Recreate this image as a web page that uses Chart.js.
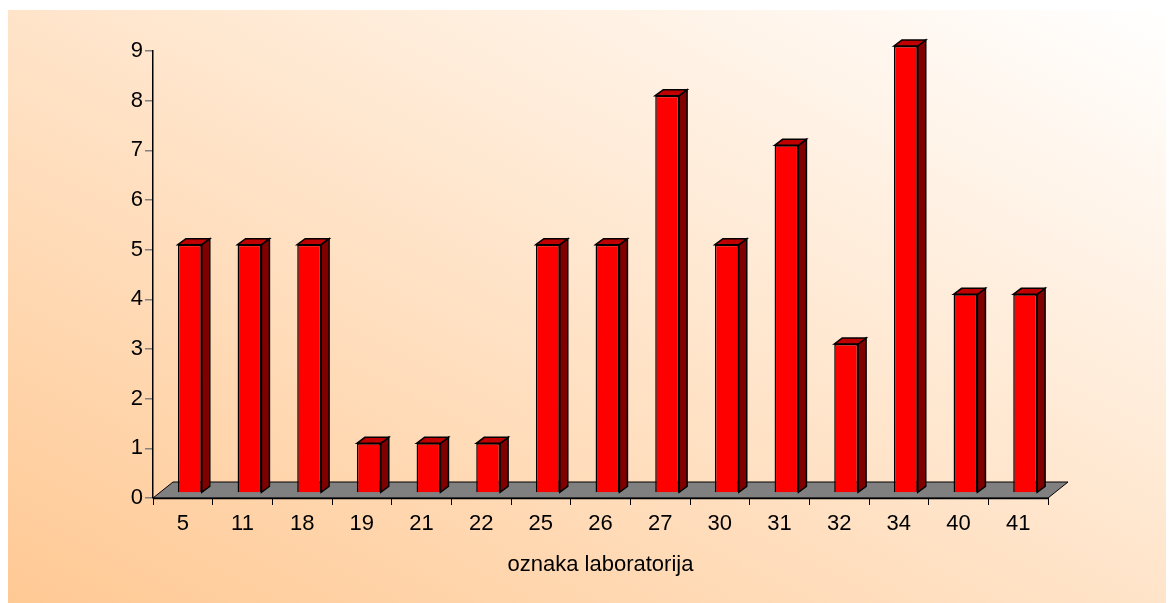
<!DOCTYPE html>
<html>
<head>
<meta charset="utf-8">
<script src="https://cdn.jsdelivr.net/npm/chart.js@4/dist/chart.umd.min.js"></script>
<style>
  html, body { margin: 0; padding: 0; background: #ffffff; }
  #wrap { width: 1173px; height: 603px; position: relative; }
</style>
</head>
<body>
<div id="wrap"><canvas id="labChart" width="1173" height="603"></canvas></div>
<script>
// data
const labels = ['5', '11', '18', '19', '21', '22', '25', '26', '27', '30', '31', '32', '34', '40', '41'];
const counts = [5, 5, 5, 1, 1, 1, 5, 5, 8, 5, 7, 3, 9, 4, 4];
const yTicks = [0, 1, 2, 3, 4, 5, 6, 7, 8, 9];
const xTitle = 'oznaka laboratorija';

const FONT = "'Liberation Sans', Arial, sans-serif";
const depth = { dx: 8, dy: -6 };      // bar depth
const floorDepth = { dx: 20, dy: -16 };
const barShift = { dx: 7, dy: -5 };    // bars sit halfway back on the floor

const background = {
    id: 'background',
    beforeDraw(chart) {
        const ctx = chart.ctx;
        const x0 = 8, y0 = 10, x1 = 1166, y1 = 603;
        const W = x1 - x0, H = y1 - y0;
        // diagonal fill in box-normalised space: peach bottom-left -> white top-right
        const t = 2 / (1 / (W * W) + 1 / (H * H));
        const g = ctx.createLinearGradient(x0, y1, x0 + t / W, y1 - t / H);
        g.addColorStop(0, '#FFC994');
        g.addColorStop(1, '#FFFFFF');
        ctx.save();
        ctx.fillStyle = g;
        ctx.fillRect(x0, y0, W, H);
        ctx.restore();
    }
};

const threeD = {
    id: 'threeD',
    beforeDatasetsDraw(chart) {
        const ctx = chart.ctx;
        const a = chart.chartArea;
        // grey floor
        ctx.save();
        ctx.beginPath();
        ctx.moveTo(a.left, a.bottom);
        ctx.lineTo(a.left + floorDepth.dx, a.bottom + floorDepth.dy);
        ctx.lineTo(a.right + floorDepth.dx, a.bottom + floorDepth.dy);
        ctx.lineTo(a.right, a.bottom);
        ctx.closePath();
        ctx.fillStyle = '#808080';
        ctx.fill();
        ctx.lineWidth = 1;
        ctx.strokeStyle = '#000000';
        ctx.stroke();
        ctx.beginPath();
        ctx.moveTo(a.left, a.bottom + 0.5);
        ctx.lineTo(a.right, a.bottom + 0.5);
        ctx.lineWidth = 1.5;
        ctx.stroke();
        ctx.restore();
        ctx.save();
        ctx.translate(barShift.dx, barShift.dy);
    },
    afterDatasetsDraw(chart) {
        const ctx = chart.ctx;
        const meta = chart.getDatasetMeta(0);
        ctx.lineWidth = 1.5;
        ctx.strokeStyle = '#000000';
        ctx.lineJoin = 'miter';
        meta.data.forEach(bar => {
            const p = bar.getProps(['x', 'y', 'base', 'width'], true);
            const l = p.x - p.width / 2, r = p.x + p.width / 2;
            // side face
            ctx.beginPath();
            ctx.moveTo(r, p.y);
            ctx.lineTo(r + depth.dx, p.y + depth.dy);
            ctx.lineTo(r + depth.dx, p.base + depth.dy);
            ctx.lineTo(r, p.base);
            ctx.closePath();
            ctx.fillStyle = '#800000';
            ctx.fill();
            ctx.stroke();
            // top face
            ctx.beginPath();
            ctx.moveTo(l, p.y);
            ctx.lineTo(l + depth.dx, p.y + depth.dy);
            ctx.lineTo(r + depth.dx, p.y + depth.dy);
            ctx.lineTo(r, p.y);
            ctx.closePath();
            ctx.fillStyle = '#C00000';
            ctx.fill();
            ctx.stroke();
        });
        ctx.restore();
    }
};

new Chart(document.getElementById('labChart'), {
    type: 'bar',
    data: {
        labels: labels,
        datasets: [{
            data: counts,
            backgroundColor: '#FF0000',
            borderColor: '#000000',
            borderWidth: 1.5,
            barPercentage: 0.4,
            categoryPercentage: 1.0,
            clip: false
        }]
    },
    options: {
        responsive: false,
        animation: false,
        layout: { padding: { left: 0, right: 125, top: 51, bottom: 22 } },
        plugins: { legend: { display: false }, tooltip: { enabled: false } },
        scales: {
            x: {
                offset: true,
                grid: { offset: true, drawOnChartArea: false, tickLength: 7, color: '#000000', lineWidth: 1 },
                border: { display: false },
                ticks: { color: '#000000', font: { family: FONT, size: 22 }, padding: 6, maxRotation: 0 },
                title: { display: true, text: xTitle, color: '#000000', font: { family: FONT, size: 22 }, padding: { top: 4, bottom: 3 } },
                afterFit(scale) { scale.height = 603 - 498 - 22; }
            },
            y: {
                min: 0,
                max: 9,
                afterBuildTicks(scale) { scale.ticks = yTicks.map(v => ({ value: v })); },
                grid: { drawOnChartArea: false, tickLength: 8, color: '#808080', lineWidth: 1.5 },
                border: { display: true, color: '#000000', width: 1.5 },
                ticks: { color: '#000000', font: { family: FONT, size: 22 }, padding: 2 },
                afterFit(scale) { scale.width = 153; }
            }
        }
    },
    plugins: [background, threeD]
});
</script>
</body>
</html>
